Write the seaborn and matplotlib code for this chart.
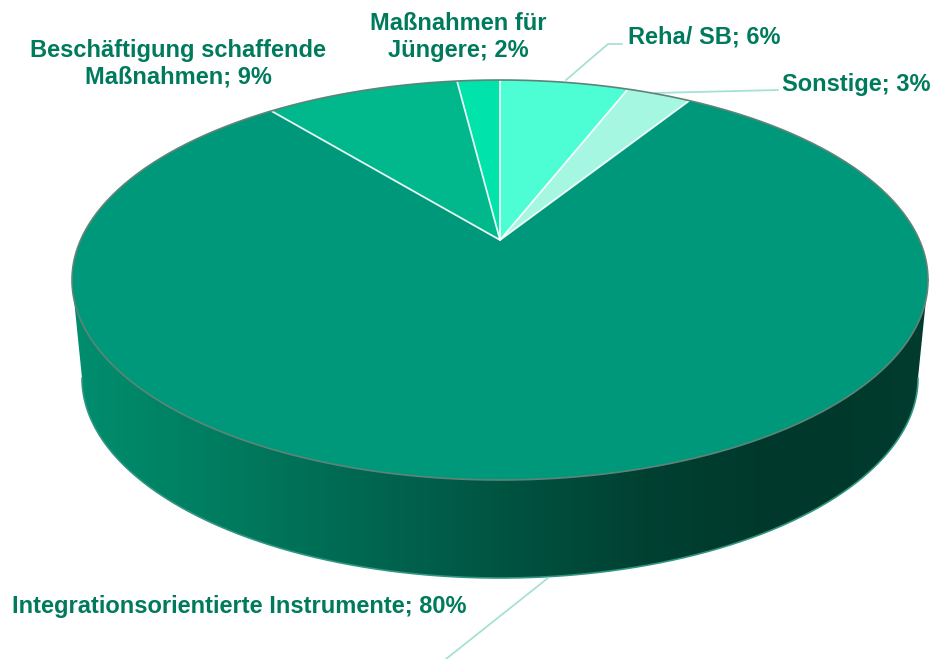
import numpy as np
import matplotlib.pyplot as plt
from matplotlib.patches import Polygon
from matplotlib.colors import LinearSegmentedColormap
import seaborn as sns

# slices, clockwise from 12 o'clock
labels = ['Reha/ SB', 'Sonstige', 'Integrationsorientierte Instrumente',
          'Beschäftigung schaffende\nMaßnahmen', 'Maßnahmen für\nJüngere']
shares = [6, 3, 80, 9, 2]
slice_colors = ['#4DFDD3', '#A6F7E2', '#00987A', '#00B88B', '#00E3AA']

sns.set_theme(style='white')
plt.rcParams['font.family'] = ['Liberation Sans', 'DejaVu Sans']

# pie geometry in pixel space (y grows downwards)
CX, CY, RX, RY = 500, 280, 428, 200      # top ellipse
VX, VY = 500, 240                        # apex of the slices (perspective)
CY2, RX2 = 378, 418                      # bottom ellipse of the wall
TILT = 0.2

def rim(t, cy=CY, rx=RX):
    return np.column_stack([CX + rx * np.cos(t), cy - RY * np.sin(t)])

def warp(theta):
    # perspective: far side of the pie looks compressed
    return theta + TILT * np.cos(theta)

fig = plt.figure(figsize=(9.36, 6.59), dpi=100)
ax = fig.add_axes([0, 0, 1, 1])

# side wall with a horizontal shading
t_side = np.linspace(np.pi, 2 * np.pi, 300)
wall = np.vstack([rim(t_side), rim(t_side, CY2, RX2)[::-1]])
wall_patch = Polygon(wall, closed=True, facecolor='none', edgecolor='none')
ax.add_patch(wall_patch)
side_cmap = LinearSegmentedColormap.from_list(
    'side', ['#008E6E', '#007D60', '#006852', '#005442', '#004132', '#00382B', '#003C2E'])
im = ax.imshow(np.linspace(0, 1, 256)[None, :], extent=[CX - RX, CX + RX, 600, 250],
               aspect='auto', cmap=side_cmap, zorder=1)
im.set_clip_path(wall_patch)
ax.plot(*rim(t_side, CY2, RX2).T, color='#2F9580', lw=1.2, zorder=2)

# top face wedges
bounds = np.pi / 2 - 2 * np.pi * np.concatenate([[0], np.cumsum(shares)]) / sum(shares)
for i, col in enumerate(slice_colors):
    t = warp(np.linspace(bounds[i], bounds[i + 1], 200))
    pts = np.vstack([[VX, VY], rim(t)])
    ax.add_patch(Polygon(pts, closed=True, facecolor=col, edgecolor='none', zorder=3))

for b in bounds[:-1]:
    x, y = rim(np.array([warp(b)]))[0]
    ax.plot([VX, x], [VY, y], color='white', lw=1.3, alpha=0.9, zorder=4)

t_all = np.linspace(0, 2 * np.pi, 600)
ax.plot(*rim(t_all).T, color='#5E8478', lw=1.2, zorder=4)

# labels and leader lines
txt = dict(color='#007A5C', fontsize=17, fontweight='bold', linespacing=1.22)
lead = dict(color='#A8E0D6', lw=1.3)

ax.text(628, 37, f'{labels[0]}; {shares[0]}%', ha='left', va='center', **txt)
ax.plot([566, 608, 622], [80, 44, 44], **lead)

ax.text(782, 84, f'{labels[1]}; {shares[1]}%', ha='left', va='center', **txt)
ax.plot([655, 778], [93, 90], **lead)

ax.text(12, 607, f'{labels[2]}; {shares[2]}%', ha='left', va='center', **txt)
ax.plot([548, 446], [578, 659], **lead)

ax.text(178, 64, f'{labels[3]}; {shares[3]}%', ha='center', va='center', **txt)
ax.text(458, 37, f'{labels[4]}; {shares[4]}%', ha='center', va='center', **txt)

ax.set_xlim(0, 936)
ax.set_ylim(659, 0)
ax.axis('off')
fig.savefig('out.png', dpi=100, facecolor='white')
